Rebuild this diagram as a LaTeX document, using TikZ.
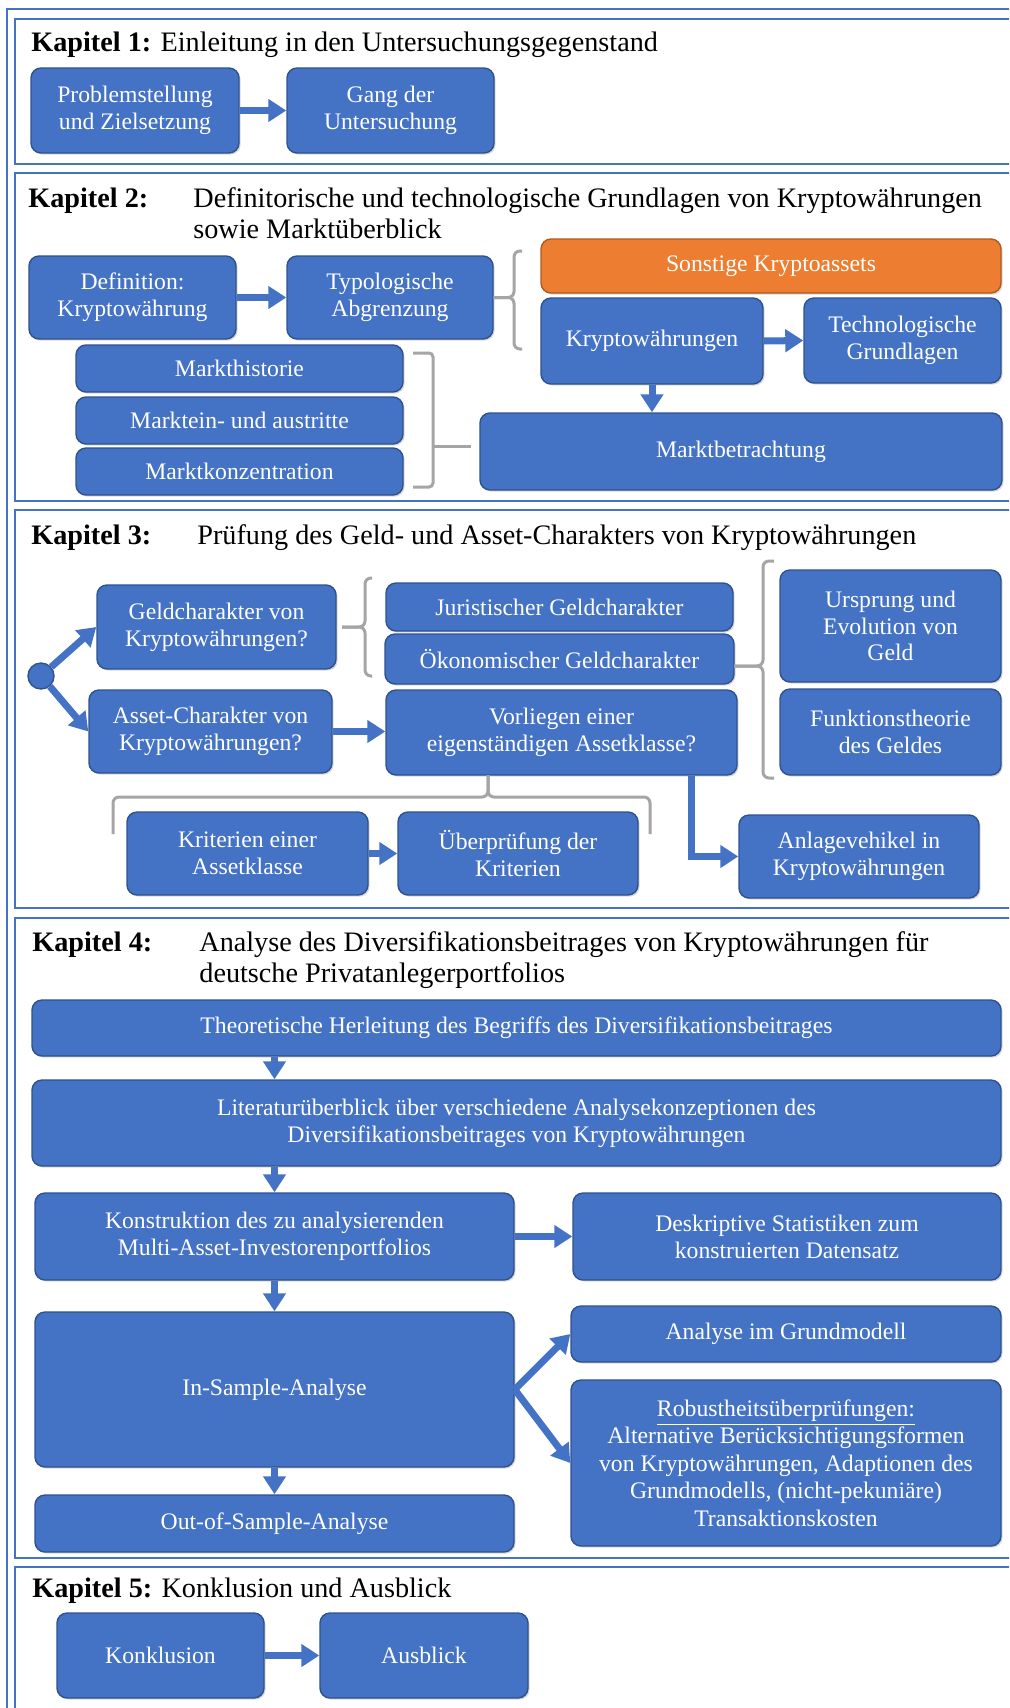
\documentclass[tikz,border=0pt]{standalone}
\usepackage{fontspec}
\setmainfont{Liberation Serif}
\usetikzlibrary{arrows.meta,calc,shadows}

\definecolor{boxblue}{HTML}{4472C4}
\definecolor{boxedge}{HTML}{2F528F}
\definecolor{orangefill}{HTML}{ED7D31}
\definecolor{orangeedge}{HTML}{AE5A21}
\definecolor{bracegray}{HTML}{A5A5A5}
\definecolor{framecol}{HTML}{4472C4}

\tikzset{
  box/.style={draw=boxedge, fill=boxblue, line width=0.7pt, rounded corners=5pt,
    text=white, align=center, inner sep=0pt,
    font=\fontsize{11.85}{13.4}\selectfont,
    drop shadow={shadow xshift=0.8pt, shadow yshift=-0.8pt, opacity=0.3}},
  orangebox/.style={box, draw=orangeedge, fill=orangefill},
  flow/.style={draw=boxblue, line width=3.5pt, -{Triangle[width=11pt,length=9pt]}},
  brace/.style={draw=bracegray, line width=1.5pt, rounded corners=3pt},
  frame/.style={draw=framecol, line width=1pt},
  title/.style={anchor=base west, inner sep=0pt, font=\fontsize{14.1}{15.5}\selectfont},
}

% box from corner (x1,y1) to (x2,y2), in pixel units
\newcommand\pbox[7][box]{%
  \node[#1, minimum width={(#5-#3)*0.5pt}, minimum height={(#6-#4)*0.5pt}]
    (#2) at ({(#3+#5)/2},{(#4+#6)/2}) {#7};}

\begin{document}
\begin{tikzpicture}[x=0.5pt,y=-0.5pt]
\clip (0,0) rectangle (1009,1708);
\fill[white] (0,0) rectangle (1009,1708);

% frames
\draw[frame] (7,9) rectangle (1030,1730);
\draw[frame] (15,19) rectangle (1030,164);
\draw[frame] (15,173) rectangle (1030,501);
\draw[frame] (15,510) rectangle (1030,908);
\draw[frame] (15,918) rectangle (1030,1558);
\draw[frame] (15,1567) rectangle (1030,1730);

% ---------- Kapitel 1 ----------
\node[title] (t1) at (31,51) {\textbf{Kapitel 1:} Einleitung in den Untersuchungsgegenstand};
\pbox{pz}{31}{68}{239}{153}{Problemstellung\\und Zielsetzung}
\pbox{gang}{287}{68}{494}{153}{Gang der\\Untersuchung}
\draw[flow] (pz.east) -- (gang.west);

% ---------- Kapitel 2 ----------
\node[title] (t2a) at (28,207) {\textbf{Kapitel 2:}};
\node[title] (t2b) at (193,207) {Definitorische und technologische Grundlagen von Kryptowährungen};
\node[title] (t2c) at (193,238) {sowie Marktüberblick};
\pbox{def}{29}{256}{236}{339}{Definition:\\Kryptowährung}
\pbox{typ}{287}{256}{493}{339}{Typologische\\Abgrenzung}
\pbox[orangebox]{sonst}{541}{239}{1001}{293}{Sonstige Kryptoassets}
\pbox{krw}{541}{298}{763}{384}{Kryptowährungen}
\pbox{tech}{804}{298}{1001}{383}{Technologische\\Grundlagen}
\pbox{markt}{480}{413}{1002}{490}{Marktbetrachtung}
\pbox{hist}{76}{345}{403}{392}{Markthistorie}
\pbox{ein}{76}{397}{403}{444}{Marktein- und austritte}
\pbox{konz}{76}{448}{403}{495}{Marktkonzentration}
\draw[flow] (def.east) -- (typ.west);
\draw[flow] (krw.east) -- (tech.west);
\draw[flow] (krw.south) -- (krw.south |- markt.north);
\draw[brace] (typ.east) -- (514,297.5) -- (514,251) -- (522,251);
\draw[brace] (typ.east) -- (514,297.5) -- (514,349) -- (522,349);
\draw[brace, rounded corners=2pt] (413,353) -- (433,353) -- (433,487) -- (413,487);
\draw[brace] (433,446) -- (471,446);

% ---------- Kapitel 3 ----------
\node[title] (t3a) at (31,544) {\textbf{Kapitel 3:}};
\node[title] (t3b) at (197,544) {Prüfung des Geld- und Asset-Charakters von Kryptowährungen};
\node[circle, draw=boxedge, fill=boxblue, line width=0.7pt, minimum size=13pt, inner sep=0pt] (start) at (41,676) {};
\pbox{geld}{97}{585}{336}{669}{Geldcharakter von\\Kryptowährungen?}
\pbox{asset}{89}{690}{332}{773}{Asset-Charakter von\\Kryptowährungen?}
\pbox{jur}{386}{583}{733}{631}{Juristischer Geldcharakter}
\pbox{oek}{385}{634}{734}{684}{Ökonomischer Geldcharakter}
\pbox{vorl}{386}{690}{737}{775}{Vorliegen einer\\eigenständigen Assetklasse?}
\pbox{urs}{780}{570}{1001}{682}{Ursprung und\\Evolution von\\Geld}
\pbox{funk}{780}{689}{1001}{775}{Funktionstheorie\\des Geldes}
\pbox{krit}{127}{812}{368}{895}{Kriterien einer\\Assetklasse}
\pbox{uebp}{398}{812}{638}{895}{Überprüfung der\\Kriterien}
\pbox{anl}{739}{815}{979}{898}{Anlagevehikel in\\Kryptowährungen}
\draw[flow] (start) -- (geld.west);
\draw[flow] (start) -- (asset.west);
\draw[flow] (asset.east) -- (asset.east -| vorl.west);
\draw[flow] (krit.east) -- (uebp.west);
\draw[flow] ($(vorl.south)+(130,0)$) |- (anl.west);
\draw[brace] (342,627) -- (365,627) -- (365,578) -- (372,578);
\draw[brace] (342,627) -- (365,627) -- (365,676) -- (372,676);
\draw[brace] (734,666) -- (763,666) -- (763,561) -- (774,561);
\draw[brace] (734,666) -- (763,666) -- (763,778) -- (774,778);
\draw[brace] (488,775) -- (488,797) -- (113,797) -- (113,834);
\draw[brace] (488,775) -- (488,797) -- (650,797) -- (650,834);

% ---------- Kapitel 4 ----------
\node[title] (t4a) at (32,951) {\textbf{Kapitel 4:}};
\node[title] (t4b) at (199,951) {Analyse des Diversifikationsbeitrages von Kryptowährungen für};
\node[title] (t4c) at (199,982) {deutsche Privatanlegerportfolios};
\pbox{theo}{32}{1000}{1001}{1056}{Theoretische Herleitung des Begriffs des Diversifikationsbeitrages}
\pbox{lit}{32}{1080}{1001}{1166}{Literaturüberblick über verschiedene Analysekonzeptionen des\\Diversifikationsbeitrages von Kryptowährungen}
\pbox{kons}{35}{1193}{514}{1280}{Konstruktion des zu analysierenden\\Multi-Asset-Investorenportfolios}
\pbox{desk}{573}{1193}{1001}{1280}{Deskriptive Statistiken zum\\konstruierten Datensatz}
\pbox{ins}{35}{1312}{514}{1467}{In-Sample-Analyse}
\pbox{agm}{571}{1306}{1001}{1362}{Analyse im Grundmodell}
\pbox[box, font=\fontsize{11.85}{13.7}\selectfont]{rob}{571}{1380}{1001}{1546}{\underline{Robustheitsüberprüfungen:}\\Alternative Berücksichtigungsformen\\von Kryptowährungen, Adaptionen des\\Grundmodells, (nicht-pekuniäre)\\Transaktionskosten}
\pbox{oos}{35}{1495}{514}{1552}{Out-of-Sample-Analyse}
\draw[flow] (theo.south -| kons.north) -- (lit.north -| kons.north);
\draw[flow] (lit.south -| kons.north) -- (kons.north);
\draw[flow] (kons.east) -- (desk.west);
\draw[flow] (kons.south) -- (ins.north);
\draw[flow] (ins.east) -- (agm.west);
\draw[flow] (ins.east) -- (rob.west);
\draw[flow] (ins.south) -- (oos.north);

% ---------- Kapitel 5 ----------
\node[title] (t5) at (32,1597) {\textbf{Kapitel 5:} Konklusion und Ausblick};
\pbox{konk}{57}{1613}{264}{1698}{Konklusion}
\pbox{ausb}{320}{1613}{528}{1698}{Ausblick}
\draw[flow] (konk.east) -- (ausb.west);
\end{tikzpicture}
\end{document}
